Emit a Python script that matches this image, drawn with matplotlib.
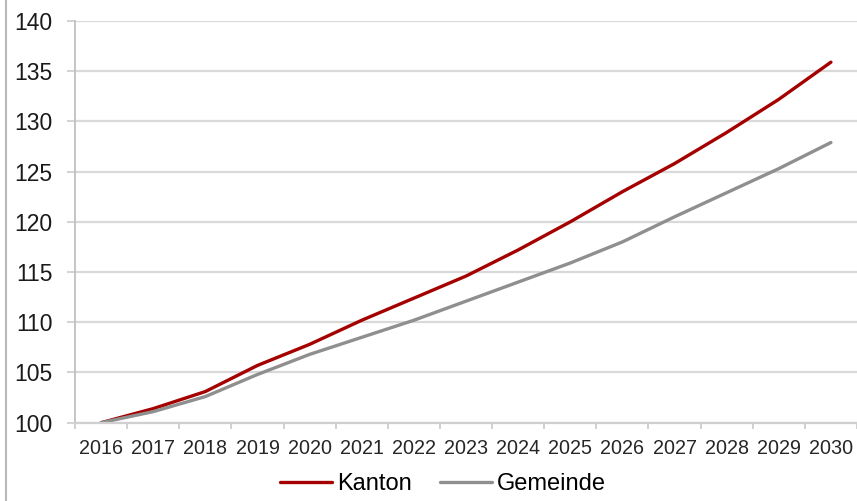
import matplotlib.pyplot as plt
from matplotlib.lines import Line2D

# values (index 2016 = 100)
years = ['2016', '2017', '2018', '2019', '2020', '2021', '2022', '2023',
         '2024', '2025', '2026', '2027', '2028', '2029', '2030']
kanton = [100, 101.4, 103.1, 105.7, 107.8, 110.2, 112.4, 114.6,
          117.2, 120.0, 123.0, 125.8, 128.9, 132.2, 135.9]
gemeinde = [100, 101.1, 102.6, 104.8, 106.8, 108.5, 110.2, 112.1,
            114.0, 115.9, 118.0, 120.5, 122.9, 125.3, 127.9]

plt.rcParams['font.family'] = ['Liberation Sans', 'DejaVu Sans']

fig = plt.figure(figsize=(8.57, 5.01), dpi=100)
ax = fig.add_axes([0.0875, 0.1563, 0.9125, 0.8018])

x = list(range(len(years)))
ax.plot(x, kanton, color='#a50000', lw=2.4, label='Kanton', solid_capstyle='round')
ax.plot(x, gemeinde, color='#8f8f8f', lw=2.4, label='Gemeinde', solid_capstyle='round')

ax.set_xlim(-0.5, len(years) - 0.5)
ax.set_ylim(100, 140)
ax.set_yticks(range(100, 141, 5))
ax.set_xticks(x)
ax.set_xticklabels(years)
ax.set_xticks([i - 0.5 for i in range(len(years) + 1)], minor=True)

ax.grid(axis='y', color='#d9d9d9', lw=1.6)
ax.set_axisbelow(True)
for s in ['top', 'right']:
    ax.spines[s].set_visible(False)
ax.spines['left'].set_color('#c0c0c0')
ax.spines['bottom'].set_color('#d0d0d0')
ax.spines['left'].set_linewidth(1.3)
ax.spines['bottom'].set_linewidth(1.6)

ax.tick_params(axis='y', length=6, width=1.3, color='#d0d0d0', labelsize=16.5,
               labelcolor='#1a1a1a', pad=10)
ax.tick_params(axis='x', which='major', length=0, labelsize=14.2,
               labelcolor='#262626', pad=12)
ax.tick_params(axis='x', which='minor', length=4, width=1.2, color='#c8c8c8')

ax.legend(loc='center', bbox_to_anchor=(0.517, 0.033), bbox_transform=fig.transFigure,
          ncol=2, frameon=False, fontsize=17, handlelength=2.2, handletextpad=0.2,
          columnspacing=1.2)

# thin frame line at the far left of the picture
fig.add_artist(Line2D([0.007, 0.007], [0, 1], transform=fig.transFigure,
                      color='#b8b8b8', lw=1.5))

fig.savefig('out.png', dpi=100)
